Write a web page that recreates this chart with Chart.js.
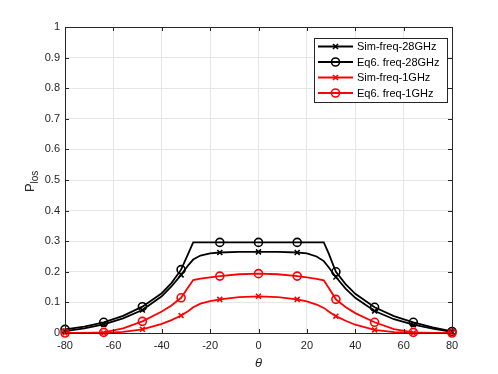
<!DOCTYPE html>
<html>
<head>
<meta charset="utf-8">
<script src="https://cdn.jsdelivr.net/npm/chart.js@4"></script>
<style>
  html, body { margin: 0; padding: 0; background: #fff; }
  #wrap { width: 498px; height: 374px; }
</style>
</head>
<body>
<div id="wrap"><canvas id="plos" width="498" height="374"></canvas></div>
<script>
// angle samples (deg) and P_los curves
const theta = [-80, -72, -64, -56, -48, -40, -36, -32, -29, -27, -24, -20, -16, -8, 0,
               8, 16, 20, 24, 27, 29, 32, 36, 40, 48, 56, 64, 72, 80];
const simFreq28 = [0.006, 0.015, 0.028, 0.048, 0.075, 0.12, 0.152, 0.19, 0.222, 0.24, 0.253, 0.26, 0.263, 0.265, 0.265,
                   0.265, 0.263, 0.26, 0.25, 0.235, 0.215, 0.183, 0.145, 0.115, 0.072, 0.045, 0.027, 0.014, 0.004];
const eq6Freq28 = [0.012, 0.021, 0.035, 0.056, 0.086, 0.13, 0.163, 0.207, 0.26, 0.296, 0.296, 0.296, 0.296, 0.296, 0.296,
                   0.296, 0.296, 0.296, 0.296, 0.296, 0.26, 0.2, 0.16, 0.128, 0.084, 0.055, 0.035, 0.018, 0.005];
const simFreq1 = [0, 0, 0, 0.004, 0.012, 0.03, 0.042, 0.057, 0.072, 0.084, 0.096, 0.104, 0.11, 0.117, 0.12,
                  0.117, 0.11, 0.103, 0.093, 0.082, 0.07, 0.055, 0.04, 0.027, 0.01, 0.003, 0, 0, 0];
const eq6Freq1 = [0, 0, 0.002, 0.015, 0.038, 0.07, 0.09, 0.115, 0.15, 0.173, 0.178, 0.182, 0.186, 0.192, 0.194,
                  0.192, 0.186, 0.182, 0.177, 0.172, 0.148, 0.11, 0.085, 0.065, 0.035, 0.013, 0.002, 0, 0];
// angles where the markers are drawn
const markerTheta = [-80, -64, -48, -32, -16, 0, 16, 32, 48, 64, 80];
const xTicks = [-80, -60, -40, -20, 0, 20, 40, 60, 80];
const seriesLabels = ['Sim-freq-28GHz', 'Eq6. freq-28GHz', 'Sim-freq-1GHz', 'Eq6. freq-1GHz'];

const axisColor = '#262626';
const gridColor = '#e6e6e6';
const tickFont = { family: 'Liberation Sans, Arial, sans-serif', size: 11 };

function makeSet(label, values, color, style, order) {
  return {
    label: label,
    data: values.map((v, i) => ({ x: theta[i], y: v })),
    borderColor: color,
    backgroundColor: 'rgba(0,0,0,0)',
    borderWidth: 1.8,
    pointStyle: style,
    pointBorderColor: color,
    pointBackgroundColor: 'rgba(0,0,0,0)',
    pointBorderWidth: 1.6,
    pointRadius: ctx => markerTheta.includes(theta[ctx.dataIndex]) ? (style === 'circle' ? 4 : 3.5) : 0,
    tension: 0,
    clip: 8,
    order: order
  };
}

// box around the axes, inward ticks, legend and the y label
const matlabLook = {
  id: 'matlabLook',
  afterDatasetsDraw(chart) {
    const { ctx, chartArea: a, scales } = chart;
    ctx.save();
    ctx.strokeStyle = axisColor;
    ctx.lineWidth = 1;
    ctx.beginPath();
    scales.x.ticks.forEach(t => {
      const px = Math.round(scales.x.getPixelForValue(t.value)) + 0.5;
      ctx.moveTo(px, a.bottom); ctx.lineTo(px, a.bottom - 4);
      ctx.moveTo(px, a.top); ctx.lineTo(px, a.top + 4);
    });
    scales.y.ticks.forEach(t => {
      const py = Math.round(scales.y.getPixelForValue(t.value)) + 0.5;
      ctx.moveTo(a.left, py); ctx.lineTo(a.left + 4, py);
      ctx.moveTo(a.right, py); ctx.lineTo(a.right - 4, py);
    });
    ctx.stroke();
    ctx.strokeRect(Math.round(a.left) + 0.5, Math.round(a.top) + 0.5,
                   Math.round(a.right - a.left), Math.round(a.bottom - a.top));
    ctx.restore();
  },
  afterDraw(chart) {
    const { ctx } = chart;
    ctx.save();
    // legend
    const bx = 314.5, by = 38.5, bw = 133, bh = 64;
    ctx.fillStyle = '#fff';
    ctx.fillRect(bx, by, bw, bh);
    ctx.strokeStyle = axisColor;
    ctx.lineWidth = 1;
    ctx.strokeRect(bx, by, bw, bh);
    ctx.font = '11px Liberation Sans, Arial, sans-serif';
    ctx.textBaseline = 'middle';
    chart.data.datasets.forEach((ds, i) => {
      const y = 46.5 + i * 15.5;
      ctx.strokeStyle = ds.borderColor;
      ctx.lineWidth = 1.8;
      ctx.beginPath();
      ctx.moveTo(318, y); ctx.lineTo(353, y);
      ctx.stroke();
      ctx.fillStyle = 'rgba(0,0,0,0)';
      ctx.lineWidth = 1.6;
      Chart.helpers.drawPoint(ctx, {
        pointStyle: ds.pointStyle, radius: ds.pointStyle === 'circle' ? 4 : 3.5,
        rotation: 0, borderWidth: 1.6
      }, 335.5, y);
      ctx.fillStyle = '#000';
      ctx.fillText(ds.label, 357, y + 0.5);
    });
    // y axis label with subscript
    ctx.translate(34, 180);
    ctx.rotate(-Math.PI / 2);
    ctx.fillStyle = axisColor;
    ctx.textBaseline = 'alphabetic';
    ctx.font = '13px Liberation Sans, Arial, sans-serif';
    ctx.fillText('P', -12, 0);
    ctx.font = '10px Liberation Sans, Arial, sans-serif';
    ctx.fillText('los', -3.5, 4);
    ctx.restore();
  }
};

new Chart(document.getElementById('plos'), {
  type: 'line',
  data: {
    datasets: [
      makeSet(seriesLabels[0], simFreq28, '#000000', 'crossRot', 4),
      makeSet(seriesLabels[1], eq6Freq28, '#000000', 'circle', 3),
      makeSet(seriesLabels[2], simFreq1, '#ff0000', 'crossRot', 2),
      makeSet(seriesLabels[3], eq6Freq1, '#ff0000', 'circle', 1)
    ]
  },
  options: {
    responsive: false,
    animation: false,
    layout: { padding: { top: 27, right: 46, bottom: 0, left: 0 } },
    plugins: { legend: { display: false }, tooltip: { enabled: false } },
    scales: {
      x: {
        type: 'linear', min: -80, max: 80,
        afterFit: s => { s.height = 41; },
        afterBuildTicks: s => { s.ticks = xTicks.map(v => ({ value: v })); },
        ticks: { color: axisColor, font: tickFont, padding: 6, maxRotation: 0 },
        grid: { color: gridColor, drawTicks: false },
        border: { color: axisColor },
        title: { display: true, text: 'θ', color: axisColor, padding: { top: 0, bottom: 3 },
                 font: { family: 'Liberation Sans, Arial, sans-serif', size: 13, style: 'italic' } }
      },
      y: {
        min: 0, max: 1,
        afterFit: s => { s.width = 65; },
        ticks: { stepSize: 0.1, color: axisColor, font: tickFont, padding: 5,
                 callback: v => String(Math.round(v * 10) / 10) },
        grid: { color: gridColor, drawTicks: false },
        border: { color: axisColor }
      }
    }
  },
  plugins: [matlabLook]
});
</script>
</body>
</html>
